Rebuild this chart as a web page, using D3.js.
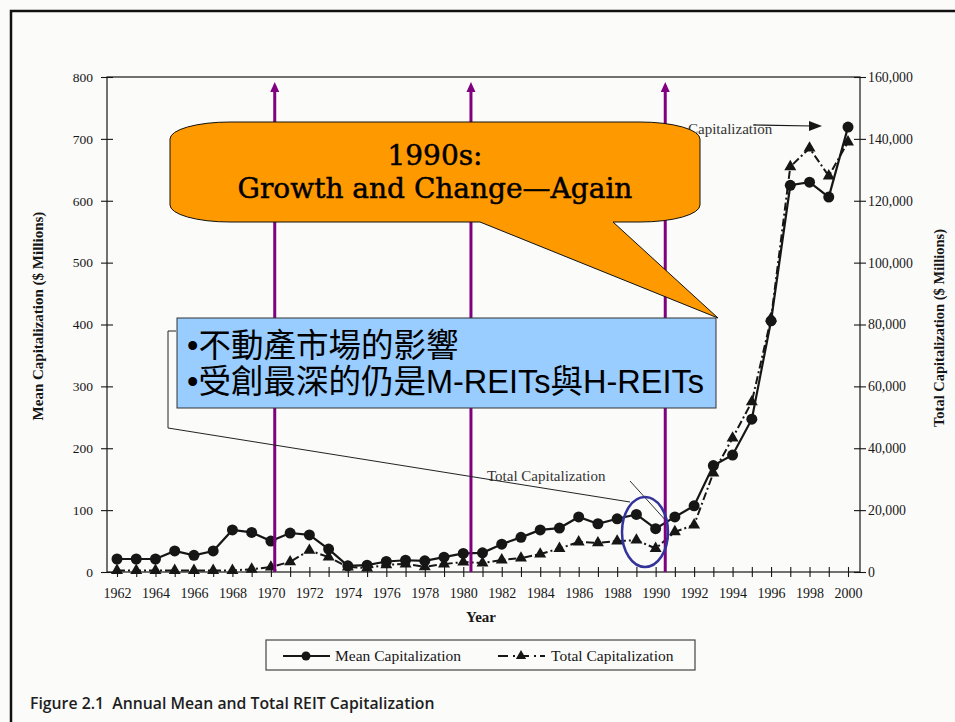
<!DOCTYPE html>
<html>
<head>
<meta charset="utf-8">
<script src="https://cdn.jsdelivr.net/npm/d3@7"></script>
<style>
  body { margin: 0; background: #fbfbfa; }
  svg { display: block; }
</style>
</head>
<body>
<script>
// Annual REIT capitalization, 1962-2000
const years = [1962,1963,1964,1965,1966,1967,1968,1969,1970,1971,1972,1973,1974,1975,1976,1977,1978,1979,1980,
  1981,1982,1983,1984,1985,1986,1987,1988,1989,1990,1991,1992,1993,1994,1995,1996,1997,1998,1999,2000];
// mean capitalization per REIT ($ millions, left axis)
const meanCap = [21,21,21,34,27,34,68,64,50,63,60,37,10,11,17,19,18,24,30,
  31,45,56,68,71,89,78,86,93,70,89,107,172,189,247,406,625,630,606,719];
// total industry capitalization ($ millions, right axis)
const totalCap = [500,500,500,500,500,500,500,900,1600,3300,7000,4800,1600,1300,2300,2600,1700,2600,3200,
  2900,3900,4500,5800,7600,9700,9400,10000,10300,7600,13000,15200,32000,43300,55000,82000,131000,137000,128000,139000];
const leftTicks = [0,100,200,300,400,500,600,700,800];
const rightTicks = [0,20000,40000,60000,80000,100000,120000,140000,160000];
const decadeMarks = [1970.2, 1980.4, 1990.5];
const bubbleLines = ["1990s:", "Growth and Change\u2014Again"];
const noteLines = ["•不動產市場的影響", "•受創最深的仍是M-REITs與H-REITs"];
const legendItems = ["Mean Capitalization", "Total Capitalization"];
const caption = "Figure 2.1  Annual Mean and Total REIT Capitalization";

const W = 955, H = 722;
const svg = d3.select("body").append("svg").attr("width", W).attr("height", H);
svg.append("rect").attr("width", W).attr("height", H).attr("fill", "#fbfbfa");

// slide frame
svg.append("path").attr("d", "M11,722 V11 H955").attr("fill", "none")
  .attr("stroke", "#111").attr("stroke-width", 2.5);

const box = { left: 107, right: 860, top: 77, bottom: 572 };
const x = d3.scaleLinear().domain([1962, 2000]).range([117, 848]);
const yL = d3.scaleLinear().domain([0, 800]).range([box.bottom, box.top]);
const yR = d3.scaleLinear().domain([0, 160000]).range([box.bottom, box.top]);

const serif = "'Liberation Serif', 'Times New Roman', serif";
const ink = "#161616";

// plot frame
svg.append("rect").attr("x", box.left).attr("y", box.top)
  .attr("width", box.right - box.left).attr("height", box.bottom - box.top)
  .attr("fill", "none").attr("stroke", ink).attr("stroke-width", 1.2);

function styleAxis(g, size) {
  g.select(".domain").remove();
  g.selectAll(".tick line").attr("stroke", ink).attr("stroke-width", 1.1);
  g.selectAll(".tick text").attr("font-family", serif).attr("font-size", size).attr("fill", ink);
}

// left axis
const gL = svg.append("g").attr("transform", `translate(${box.left},0)`)
  .call(d3.axisLeft(yL).tickValues(leftTicks).tickSize(5).tickPadding(9).tickFormat(d3.format("d")));
styleAxis(gL, 13.5);
gL.selectAll(".tick line").attr("x1", 6).attr("x2", -6);

// right axis
const gR = svg.append("g").attr("transform", `translate(${box.right},0)`)
  .call(d3.axisRight(yR).tickValues(rightTicks).tickSize(4).tickPadding(4).tickFormat(d3.format(",")));
styleAxis(gR, 13.8);
gR.selectAll(".tick line").attr("x1", -6).attr("x2", 6);

// year axis
const gX = svg.append("g").attr("transform", `translate(0,${box.bottom})`)
  .call(d3.axisBottom(x).tickValues(years).tickSize(5).tickPadding(11)
    .tickFormat(d => d % 2 === 0 ? d : ""));
styleAxis(gX, 14);
gX.selectAll(".tick line").attr("y1", -5).attr("y2", 5);

// axis titles
svg.append("text").attr("transform", "translate(43,316) rotate(-90)")
  .attr("text-anchor", "middle").attr("font-family", serif).attr("font-weight", "bold")
  .attr("font-size", 15).attr("fill", ink).text("Mean Capitalization ($ Millions)");
svg.append("text").attr("transform", "translate(944,328) rotate(-90)")
  .attr("text-anchor", "middle").attr("font-family", serif).attr("font-weight", "bold")
  .attr("font-size", 14.5).attr("fill", ink).text("Total Capitalization ($ Millions)");
svg.append("text").attr("x", 481).attr("y", 622).attr("text-anchor", "middle")
  .attr("font-family", serif).attr("font-weight", "bold").attr("font-size", 15)
  .attr("fill", ink).text("Year");

// total capitalization (dash-dot with triangles)
const lineT = d3.line().x((d, i) => x(years[i])).y(d => yR(d));
svg.append("path").datum(totalCap).attr("d", lineT).attr("fill", "none")
  .attr("stroke", ink).attr("stroke-width", 2).attr("stroke-dasharray", "8,3,2,3");
const tri = d3.symbol().type(d3.symbolTriangle).size(62);
svg.append("g").selectAll("path").data(totalCap).join("path")
  .attr("d", tri).attr("fill", ink)
  .attr("transform", (d, i) => `translate(${x(years[i])},${yR(d)})`);

// mean capitalization (solid with dots)
const lineM = d3.line().x((d, i) => x(years[i])).y(d => yL(d));
svg.append("path").datum(meanCap).attr("d", lineM).attr("fill", "none")
  .attr("stroke", ink).attr("stroke-width", 2.2);
svg.append("g").selectAll("circle").data(meanCap).join("circle")
  .attr("cx", (d, i) => x(years[i])).attr("cy", d => yL(d)).attr("r", 5.5).attr("fill", ink);

// in-chart series labels
svg.append("text").attr("x", 487).attr("y", 481).attr("font-family", serif)
  .attr("font-size", 15).attr("fill", "#333").text(legendItems[1]);
svg.append("line").attr("x1", 630).attr("y1", 481).attr("x2", 668).attr("y2", 523)
  .attr("stroke", "#333").attr("stroke-width", 1);
svg.append("text").attr("x", 688).attr("y", 134).attr("font-family", serif)
  .attr("font-size", 15).attr("fill", "#333").text("Capitalization");
svg.append("line").attr("x1", 753).attr("y1", 125).attr("x2", 812).attr("y2", 126)
  .attr("stroke", ink).attr("stroke-width", 1.2);
svg.append("path").attr("d", "M822,126 L809,121 L809,131 Z").attr("fill", ink);

// decade markers
const purple = "#800080";
decadeMarks.forEach(yr => {
  const px = x(yr);
  svg.append("line").attr("x1", px).attr("x2", px).attr("y1", box.bottom).attr("y2", 90)
    .attr("stroke", purple).attr("stroke-width", 3);
  svg.append("path").attr("d", `M${px},82 L${px - 4.5},92 L${px + 4.5},92 Z`).attr("fill", purple);
});

// legend
const lg = svg.append("g");
lg.append("rect").attr("x", 266).attr("y", 640).attr("width", 429).attr("height", 30)
  .attr("fill", "none").attr("stroke", "#444").attr("stroke-width", 1.2);
lg.append("line").attr("x1", 283).attr("x2", 330).attr("y1", 656).attr("y2", 656)
  .attr("stroke", ink).attr("stroke-width", 2.2);
lg.append("circle").attr("cx", 306).attr("cy", 656).attr("r", 4.5).attr("fill", ink);
lg.append("text").attr("x", 335).attr("y", 661).attr("font-family", serif).attr("font-size", 15.5)
  .attr("fill", ink).text(legendItems[0]);
lg.append("line").attr("x1", 498).attr("x2", 545).attr("y1", 656).attr("y2", 656)
  .attr("stroke", ink).attr("stroke-width", 2).attr("stroke-dasharray", "10,5,2,4");
lg.append("path").attr("d", tri.size(46)).attr("transform", "translate(521,656)").attr("fill", ink);
lg.append("text").attr("x", 551).attr("y", 661).attr("font-family", serif).attr("font-size", 15.5)
  .attr("fill", ink).text(legendItems[1]);

// caption
svg.append("text").attr("x", 30).attr("y", 709).attr("font-family", "'Open Sans', 'Noto Sans', sans-serif")
  .attr("font-weight", 600).attr("font-size", 15.8).attr("fill", "#1e1e1e")
  .style("white-space", "pre").text(caption);

// circled 1989-1990 dip and its note callout line
svg.append("ellipse").attr("cx", 645).attr("cy", 532).attr("rx", 23).attr("ry", 35)
  .attr("fill", "none").attr("stroke", "#33339a").attr("stroke-width", 2.5);
svg.append("path").attr("d", "M176,331 H168 V428 L630,502").attr("fill", "none")
  .attr("stroke", "#222").attr("stroke-width", 1);

// orange speech bubble
{
  const L = 170, R = 700, T = 122, B = 222, rx = 60, ry = 17;
  const d = `M${L + rx},${T} H${R - rx} A${rx},${ry} 0 0 1 ${R},${T + ry} V${B - ry} ` +
    `A${rx},${ry} 0 0 1 ${R - rx},${B} H613 L718,318 L480,${B} H${L + rx} ` +
    `A${rx},${ry} 0 0 1 ${L},${B - ry} V${T + ry} A${rx},${ry} 0 0 1 ${L + rx},${T} Z`;
  svg.append("path").attr("d", d).attr("fill", "#ff9900").attr("stroke", "#111").attr("stroke-width", 1);
  svg.selectAll("text.bubble").data(bubbleLines).join("text").attr("class", "bubble")
    .attr("x", 435).attr("y", (d, i) => 165 + i * 33).attr("text-anchor", "middle")
    .attr("font-family", "'DejaVu Serif', serif").attr("font-size", 28).attr("fill", "#000")
    .attr("stroke", "#000").attr("stroke-width", 0.5).text(d => d);
}

// blue note box
svg.append("rect").attr("x", 177).attr("y", 318).attr("width", 539).attr("height", 90)
  .attr("fill", "#99ccff").attr("stroke", "#333").attr("stroke-width", 1);
svg.selectAll("text.note").data(noteLines).join("text").attr("class", "note")
  .attr("x", 187).attr("y", (d, i) => 357 + i * 36)
  .attr("font-family", "'Liberation Sans', 'Noto Sans CJK TC', sans-serif")
  .attr("font-size", 32.5).attr("fill", "#000").text(d => d);
</script>
</body>
</html>
